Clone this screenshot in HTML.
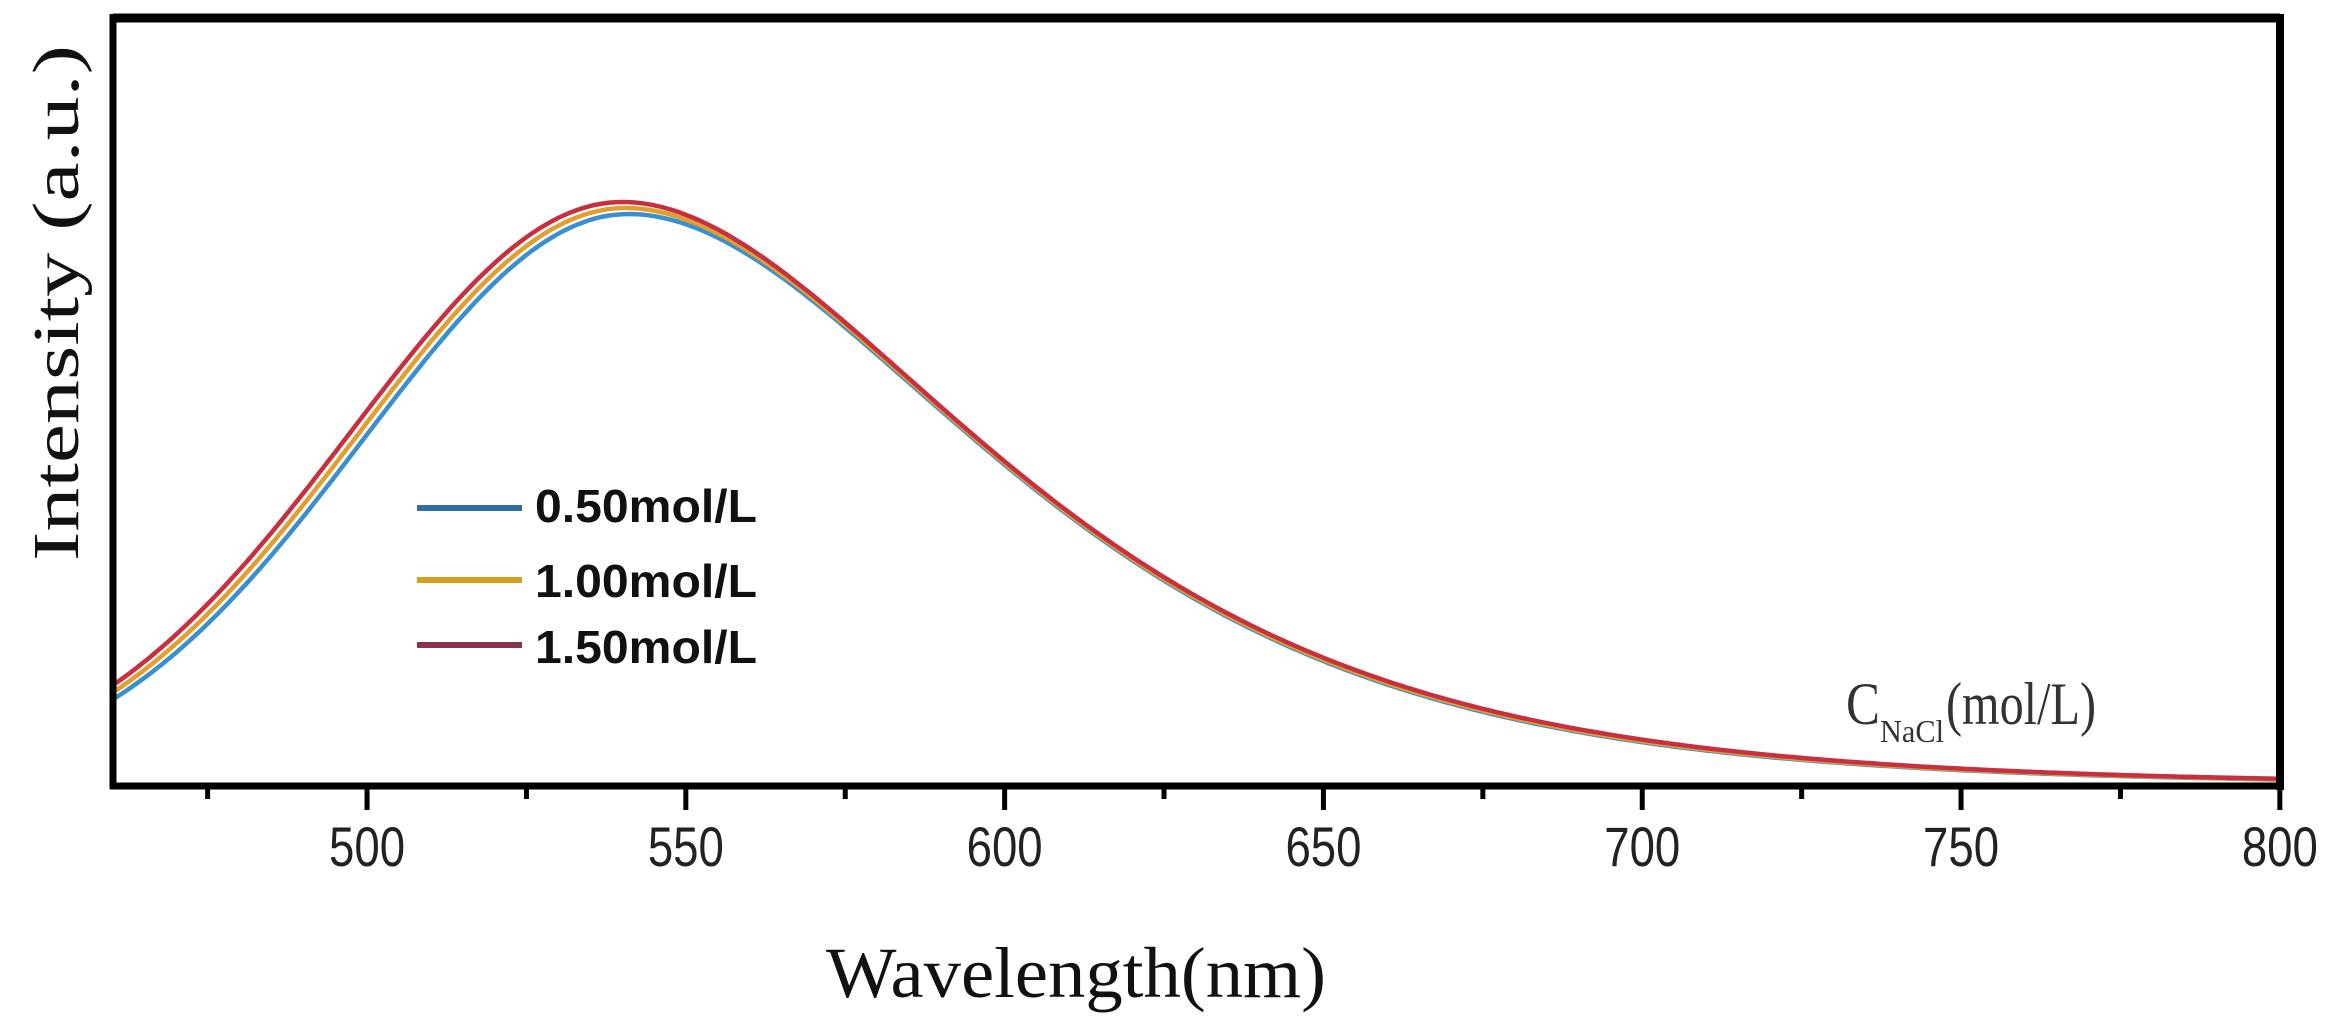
<!DOCTYPE html>
<html><head><meta charset="utf-8"><style>
html,body{margin:0;padding:0;background:#fff;}
svg{display:block;}
</style></head><body>
<svg id="s" width="2326" height="1034" viewBox="0 0 2326 1034" xmlns="http://www.w3.org/2000/svg">
<rect width="2326" height="1034" fill="#fff"/>
<g id="curves" fill="none" stroke-width="4.5" stroke-linejoin="round"></g>
<line x1="113" y1="18" x2="2280" y2="18" stroke="#000" stroke-width="9"/>
<line x1="2280" y1="14" x2="2280" y2="790" stroke="#000" stroke-width="8"/>
<line x1="113" y1="14" x2="113" y2="789" stroke="#000" stroke-width="7"/>
<line x1="110" y1="786" x2="2284" y2="786" stroke="#000" stroke-width="7"/>
<g stroke="#000" stroke-width="5" id="ticks"></g>
<g font-family="Liberation Sans, Arial, sans-serif" font-size="56" fill="#222" text-anchor="middle" id="tl"></g>
<line x1="417" y1="508" x2="522" y2="508" stroke="#2e6f9e" stroke-width="6"/>
<line x1="417" y1="580" x2="522" y2="580" stroke="#d4a020" stroke-width="6"/>
<line x1="417" y1="645" x2="522" y2="645" stroke="#8a3050" stroke-width="6"/>
<g font-family="Liberation Sans, Arial, sans-serif" font-weight="bold" font-size="46" fill="#111">
<text x="535" y="522" textLength="222" lengthAdjust="spacingAndGlyphs">0.50mol/L</text>
<text x="535" y="597" textLength="222" lengthAdjust="spacingAndGlyphs">1.00mol/L</text>
<text x="535" y="663" textLength="222" lengthAdjust="spacingAndGlyphs">1.50mol/L</text>
</g>
<g font-family="Liberation Serif, Times New Roman, serif" fill="#333">
<text x="1846" y="724" font-size="60" textLength="34" lengthAdjust="spacingAndGlyphs">C</text>
<text x="1880" y="742" font-size="32" textLength="64" lengthAdjust="spacingAndGlyphs">NaCl</text>
<text x="1946" y="724" font-size="60" textLength="150" lengthAdjust="spacingAndGlyphs">(mol/L)</text>
</g>
<text x="826" y="997" font-family="Liberation Serif, Times New Roman, serif" font-size="72" fill="#111" textLength="500" lengthAdjust="spacingAndGlyphs">Wavelength(nm)</text>
<text transform="translate(78,561) rotate(-90)" x="0" y="0" font-family="Liberation Serif, Times New Roman, serif" font-size="66" fill="#111" textLength="516" lengthAdjust="spacingAndGlyphs">Intensity (a.u.)</text>
</svg>
<script>
(function(){
var NS="http://www.w3.org/2000/svg";
function X(nm){return 112+(nm-460)*6.376;}
var base=785;
var series=[
 {c:"#3a8fd0",A:571,mu:541,sl:41.5,k:0.15},
 {c:"#e0a030",A:577,mu:540.5,sl:42,k:0.152},
 {c:"#c83040",A:583,mu:540,sl:42.5,k:0.155}
];
var g=document.getElementById("curves");
series.forEach(function(s){
 var d="";
 for(var nm=460;nm<=800;nm+=1){
  var dd=nm-s.mu, sg=dd<0?s.sl:(46+s.k*dd);
  var f=Math.exp(-dd*dd/(2*sg*sg));
  var y=base-s.A*f;
  d+=(nm==460?"M":"L")+X(nm).toFixed(1)+" "+y.toFixed(1);
 }
 var p=document.createElementNS(NS,"path");
 p.setAttribute("d",d);p.setAttribute("stroke",s.c);
 g.appendChild(p);
});
var t=document.getElementById("ticks"),tl=document.getElementById("tl");
for(var nm=475;nm<=800;nm+=25){
 var x=X(nm),maj=(nm%50==0);
 var l=document.createElementNS(NS,"line");
 l.setAttribute("x1",x);l.setAttribute("x2",x);
 l.setAttribute("y1",786);l.setAttribute("y2",maj?810:799);
 t.appendChild(l);
 if(maj){
  var tx=document.createElementNS(NS,"text");
  tx.setAttribute("x",x);tx.setAttribute("y",866);
  tx.setAttribute("textLength","76");tx.setAttribute("lengthAdjust","spacingAndGlyphs");
  tx.textContent=String(nm);tl.appendChild(tx);
 }
}
})();
</script>
</body></html>
